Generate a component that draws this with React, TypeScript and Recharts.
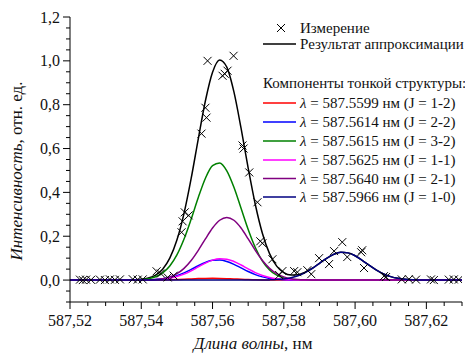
import React from 'react';
import { ComposedChart, Line, Scatter, XAxis, YAxis, Legend } from 'recharts';

const FONT = 'Liberation Serif';
const FS = (size: number, italic = false): React.CSSProperties => ({
  fontFamily: FONT,
  fontSize: size,
  fontStyle: italic ? 'italic' : 'normal',
});
const FONT_CSS =
  "#root svg text, #root svg tspan, #root .recharts-wrapper text, #root .recharts-wrapper tspan, " +
  "#root .recharts-legend-wrapper text, #root .recharts-legend-wrapper tspan " +
  "{ font-family: 'Liberation Serif', 'Times New Roman', serif !important; }";

// Wavelength grid (nm) for the fitted curves
const wavelength = [
  587.520, 587.528,
  587.536, 587.538, 587.540, 587.542, 587.544, 587.546, 587.548, 587.550, 587.552, 587.554,
  587.556, 587.558, 587.560, 587.562, 587.564, 587.566, 587.568, 587.570, 587.572, 587.574,
  587.576, 587.578, 587.580, 587.582, 587.584, 587.586, 587.588, 587.590, 587.592, 587.594,
  587.596, 587.598, 587.600, 587.602, 587.604, 587.606, 587.608, 587.610, 587.612, 587.614,
  587.616, 587.618, 587.620,
  587.630,
];

// Fit result (black)
const fitTotal = [
  0, 0,
  0.0003, 0.0013, 0.0034, 0.0094, 0.0227, 0.0498, 0.1001, 0.1826, 0.3045, 0.4635,
  0.6445, 0.8181, 0.9485, 1.0041, 0.9716, 0.8583, 0.6929, 0.5111, 0.3447, 0.2126,
  0.1206, 0.0638, 0.0339, 0.0230, 0.0247, 0.0360, 0.0539, 0.0766, 0.0992, 0.1173,
  0.1265, 0.1241, 0.1110, 0.0904, 0.0671, 0.0453, 0.0279, 0.0157, 0.0080, 0.0037,
  0.0016, 0.0006, 0.0002,
  0,
];

// λ = 587.5599 (J = 1-2)
const comp12 = [
  0, 0,
  0, 0, 0, 0.0002, 0.0004, 0.0008, 0.0015, 0.0026, 0.0039, 0.0053,
  0.0067, 0.0077, 0.0080, 0.0076, 0.0066, 0.0052, 0.0037, 0.0024, 0.0015, 0.0008,
  0.0004, 0.0002, 0, 0, 0, 0, 0, 0, 0, 0,
  0, 0, 0, 0, 0, 0, 0, 0, 0, 0,
  0, 0, 0,
  0,
];

// λ = 587.5614 (J = 2-2)
const comp22 = [
  0, 0,
  0, 0.0002, 0.0004, 0.0011, 0.0027, 0.0058, 0.0113, 0.0202, 0.0329, 0.0486,
  0.0655, 0.0804, 0.0899, 0.0916, 0.0850, 0.0719, 0.0554, 0.0389, 0.0248, 0.0145,
  0.0077, 0.0037, 0.0016, 0.0007, 0.0002, 0, 0, 0, 0, 0,
  0, 0, 0, 0, 0, 0, 0, 0, 0, 0,
  0, 0, 0,
  0,
];

// λ = 587.5615 (J = 3-2)
const comp32 = [
  0, 0,
  0.0003, 0.0009, 0.0024, 0.0064, 0.0151, 0.0326, 0.0643, 0.1147, 0.1871, 0.2782,
  0.3768, 0.4647, 0.5221, 0.5344, 0.4985, 0.4234, 0.3275, 0.2310, 0.1485, 0.0868,
  0.0463, 0.0225, 0.0099, 0.0040, 0.0015, 0.0005, 0, 0, 0, 0,
  0, 0, 0, 0, 0, 0, 0, 0, 0, 0,
  0, 0, 0,
  0,
];

// λ = 587.5625 (J = 1-1)
const comp11 = [
  0, 0,
  0, 0.0001, 0.0003, 0.0007, 0.0018, 0.0041, 0.0085, 0.0159, 0.0271, 0.0422,
  0.0599, 0.0774, 0.0911, 0.0977, 0.0955, 0.0850, 0.0689, 0.0509, 0.0342, 0.0210,
  0.0118, 0.0060, 0.0028, 0.0012, 0.0004, 0.0002, 0, 0, 0, 0,
  0, 0, 0, 0, 0, 0, 0, 0, 0, 0,
  0, 0, 0,
  0,
];

// λ = 587.5640 (J = 2-1)
const comp21 = [
  0, 0,
  0, 0.0001, 0.0003, 0.0010, 0.0027, 0.0065, 0.0145, 0.0292, 0.0535, 0.0892,
  0.1356, 0.1879, 0.2374, 0.2728, 0.2860, 0.2728, 0.2374, 0.1879, 0.1356, 0.0892,
  0.0535, 0.0292, 0.0145, 0.0065, 0.0027, 0.0010, 0.0003, 0.0001, 0, 0,
  0, 0, 0, 0, 0, 0, 0, 0, 0, 0,
  0, 0, 0,
  0,
];

// λ = 587.5966 (J = 1-0)
const comp10 = [
  0, 0,
  0, 0, 0, 0, 0, 0, 0, 0, 0, 0,
  0, 0, 0, 0, 0, 0, 0, 0, 0.0001, 0.0003,
  0.0009, 0.0022, 0.0051, 0.0106, 0.0199, 0.0343, 0.0536, 0.0765, 0.0992, 0.1173,
  0.1265, 0.1241, 0.1110, 0.0904, 0.0671, 0.0453, 0.0279, 0.0157, 0.0080, 0.0037,
  0.0016, 0.0006, 0.0002,
  0,
];

// Measurements (crosses)
const measX = [
  587.5228, 587.5236, 587.5245, 587.5259, 587.5284, 587.5298, 587.5312, 587.5326, 587.5340,
  587.5376, 587.5390, 587.5404, 587.5443, 587.5455, 587.5474, 587.5491, 587.5513, 587.5516,
  587.5522, 587.5533, 587.5569, 587.5580, 587.5583, 587.5586, 587.5628, 587.5634, 587.5642,
  587.5659, 587.5684, 587.5687, 587.5703, 587.5726, 587.5734, 587.5740, 587.5768, 587.5787,
  587.5796, 587.5829, 587.5838, 587.5866, 587.5877, 587.5899, 587.5927, 587.5941, 587.5964,
  587.5978, 587.6017, 587.6020, 587.6025, 587.6081, 587.6087, 587.6131, 587.6151, 587.6171,
  587.6213, 587.6221, 587.6263, 587.6277, 587.6291,
];
const measY = [
  0.002, 0.000, 0.002, 0.001, 0.002, 0.000, 0.003, 0.001, 0.003,
  0.004, 0.002, 0.003, 0.040, 0.030, 0.012, 0.020, 0.218, 0.268,
  0.309, 0.295, 0.668, 0.786, 0.741, 1.000, 0.932, 0.941, 0.955,
  1.023, 0.614, 0.600, 0.491, 0.355, 0.177, 0.168, 0.095, 0.023,
  0.041, 0.041, 0.036, 0.045, 0.027, 0.100, 0.073, 0.132, 0.173,
  0.105, 0.127, 0.136, 0.055, 0.018, 0.014, 0.003, 0.004, 0.002,
  0.003, 0.000, 0.002, 0.003, 0.002,
];

const xTicks = [
  587.52, 587.525, 587.53, 587.535, 587.54, 587.545, 587.55, 587.555, 587.56, 587.565,
  587.57, 587.575, 587.58, 587.585, 587.59, 587.595, 587.6, 587.605, 587.61, 587.615,
  587.62, 587.625, 587.63,
];
const xLabelTicks = [587.52, 587.54, 587.56, 587.58, 587.6, 587.62];
const yTicks = [
  -0.1, -0.05, 0, 0.05, 0.1, 0.15, 0.2, 0.25, 0.3, 0.35, 0.4, 0.45, 0.5, 0.55, 0.6,
  0.65, 0.7, 0.75, 0.8, 0.85, 0.9, 0.95, 1.0, 1.05, 1.1, 1.15, 1.2,
];
const yLabelTicks = [0, 0.2, 0.4, 0.6, 0.8, 1.0, 1.2];

const componentNames = [
  '587.5599 нм (J = 1-2)',
  '587.5614 нм (J = 2-2)',
  '587.5615 нм (J = 3-2)',
  '587.5625 нм (J = 1-1)',
  '587.5640 нм (J = 2-1)',
  '587.5966 нм (J = 1-0)',
];
const componentKeys = ['c12', 'c22', 'c32', 'c11', 'c21', 'c10'];
const componentColors = ['#ff0000', '#0000ff', '#008000', '#ff00ff', '#800080', '#000080'];
const componentValues = [comp12, comp22, comp32, comp11, comp21, comp10];

const curveData = wavelength.map((w, i) => {
  const row: any = { x: w, total: fitTotal[i] };
  componentKeys.forEach((k, j) => {
    row[k] = componentValues[j][i];
  });
  return row;
});
const measData = measX.map((x, i) => ({ x, y: measY[i] }));

const near = (a: number, b: number) => Math.abs(a - b) < 1e-7;
const isXMajor = (v: number) => xLabelTicks.some((t) => near(t, v));
const isYMajor = (v: number) => yLabelTicks.some((t) => near(t, v));

const TEXT = '#111';

function BottomTick(props: any) {
  const { x, y, payload } = props;
  const v = payload.value;
  const major = isXMajor(v);
  return (
    <g>
      <line x1={x} x2={x} y1={y} y2={y + (major ? 7 : 4)} stroke="#000" strokeWidth={1} />
      {major && (
        <text x={x} y={y + 24} textAnchor="middle" fontFamily={FONT} style={FS(16)} fill={TEXT}>
          {v.toFixed(2).replace('.', ',')}
        </text>
      )}
    </g>
  );
}
function TopTick(props: any) {
  const { x, y, payload } = props;
  const major = isXMajor(payload.value);
  return <line x1={x} x2={x} y1={y} y2={y + (major ? 6 : 3)} stroke="#000" strokeWidth={1} />;
}
function LeftTick(props: any) {
  const { x, y, payload } = props;
  const v = payload.value;
  const major = isYMajor(v);
  return (
    <g>
      <line x1={x} x2={x - (major ? 7 : 4)} y1={y} y2={y} stroke="#000" strokeWidth={1} />
      {major && (
        <text x={x - 10} y={y + 5.5} textAnchor="end" fontFamily={FONT} style={FS(16)} fill={TEXT}>
          {v.toFixed(1).replace('.', ',')}
        </text>
      )}
    </g>
  );
}
function RightTick(props: any) {
  const { x, y, payload } = props;
  const major = isYMajor(payload.value);
  return <line x1={x} x2={x - (major ? 6 : 3)} y1={y} y2={y} stroke="#000" strokeWidth={1} />;
}

function Cross(props: any) {
  const { cx, cy } = props;
  if (cx == null || cy == null) return null;
  const s = 4;
  return (
    <g>
      <line x1={cx - s} y1={cy - s} x2={cx + s} y2={cy + s} stroke="#000" strokeWidth={1} />
      <line x1={cx - s} y1={cy + s} x2={cx + s} y2={cy - s} stroke="#000" strokeWidth={1} />
    </g>
  );
}

function XTitle() {
  return (
    <text x={253} y={349} textAnchor="middle" fontFamily={FONT} style={FS(17)} fill={TEXT}>
      <tspan style={FS(17, true)}>Длина волны</tspan>
      <tspan>, нм</tspan>
    </text>
  );
}
function YTitle() {
  return (
    <text transform="translate(22,171) rotate(-90)" textAnchor="middle" fontFamily={FONT} style={FS(17)} fill={TEXT}>
      <tspan style={FS(17, true)}>Интенсивность</tspan>
      <tspan>, отн. ед.</tspan>
    </text>
  );
}

const LX = 250;
const LY = 10;
function LegendBox() {
  const rowY = [103, 122, 141, 160, 178.5, 197];
  return (
    <svg width={215} height={200} style={{ overflow: 'visible', display: 'block' }}>
      <g transform={`translate(${-LX},${-LY})`} fill={TEXT} style={FS(15)}>
        <line x1={277} y1={24} x2={285} y2={32} stroke="#000" strokeWidth={1} />
        <line x1={277} y1={32} x2={285} y2={24} stroke="#000" strokeWidth={1} />
        <text x={300} y={33} style={FS(15)}>Измерение</text>
        <line x1={263} y1={44} x2={296} y2={44} stroke="#000" strokeWidth={1.5} />
        <text x={300} y={49} style={FS(15)}>Результат аппроксимации</text>
        <text x={263} y={88} style={FS(15)}>Компоненты тонкой структуры:</text>
        {componentNames.map((n, i) => (
          <g key={n}>
            <line x1={263} y1={rowY[i]} x2={296} y2={rowY[i]} stroke={componentColors[i]} strokeWidth={1.5} />
            <text x={300} y={rowY[i] + 5} style={FS(15)}>
              <tspan style={FS(15, true)}>λ</tspan>
              <tspan>{' = ' + n}</tspan>
            </text>
          </g>
        ))}
      </g>
    </svg>
  );
}

export default function App() {
  return (
    <div style={{ position: 'absolute', left: 0, top: 0, width: 465, height: 355, background: '#fff' }}>
      <style>{FONT_CSS}</style>
      <ComposedChart
        width={465}
        height={355}
        data={curveData}
        margin={{ top: 17, right: 3, bottom: 0, left: 0 }}
      >
        <XAxis
          dataKey="x"
          type="number"
          domain={[587.52, 587.63]}
          allowDataOverflow
          ticks={xTicks}
          interval={0}
          tickSize={0}
          tickMargin={0}
          tickLine={false}
          tick={(p: any) => <BottomTick {...p} />}
          axisLine={{ stroke: '#000', strokeWidth: 1 }}
          height={53}
          label={<XTitle />}
        />
        <XAxis
          xAxisId="top"
          orientation="top"
          dataKey="x"
          type="number"
          domain={[587.52, 587.63]}
          allowDataOverflow
          ticks={xTicks}
          interval={0}
          tickSize={0}
          tickMargin={0}
          tickLine={false}
          tick={(p: any) => <TopTick {...p} />}
          axisLine={{ stroke: '#000', strokeWidth: 1 }}
          height={0}
        />
        <YAxis
          type="number"
          domain={[-0.1, 1.2]}
          allowDataOverflow
          ticks={yTicks}
          interval={0}
          tickSize={0}
          tickMargin={0}
          tickLine={false}
          tick={(p: any) => <LeftTick {...p} />}
          axisLine={{ stroke: '#000', strokeWidth: 1 }}
          width={70}
          label={<YTitle />}
        />
        <YAxis
          yAxisId="right"
          orientation="right"
          type="number"
          domain={[-0.1, 1.2]}
          allowDataOverflow
          ticks={yTicks}
          interval={0}
          tickSize={0}
          tickMargin={0}
          tickLine={false}
          tick={(p: any) => <RightTick {...p} />}
          axisLine={{ stroke: '#000', strokeWidth: 1 }}
          width={0}
        />
        <Legend
          layout="vertical"
          align="center"
          verticalAlign="middle"
          wrapperStyle={{ left: LX, top: LY, width: 215, height: 200 }}
          content={() => <LegendBox />}
        />
        <Line
          dataKey="total"
          type="monotone"
          stroke="#000"
          strokeWidth={1.5}
          dot={false}
          activeDot={false}
          isAnimationActive={false}
        />
        {componentKeys.map((k, i) => (
          <Line
            key={k}
            dataKey={k}
            type="monotone"
            stroke={componentColors[i]}
            strokeWidth={1.5}
            dot={false}
            activeDot={false}
            isAnimationActive={false}
          />
        ))}
        <Scatter data={measData} dataKey="y" shape={<Cross />} isAnimationActive={false} />
      </ComposedChart>
    </div>
  );
}
